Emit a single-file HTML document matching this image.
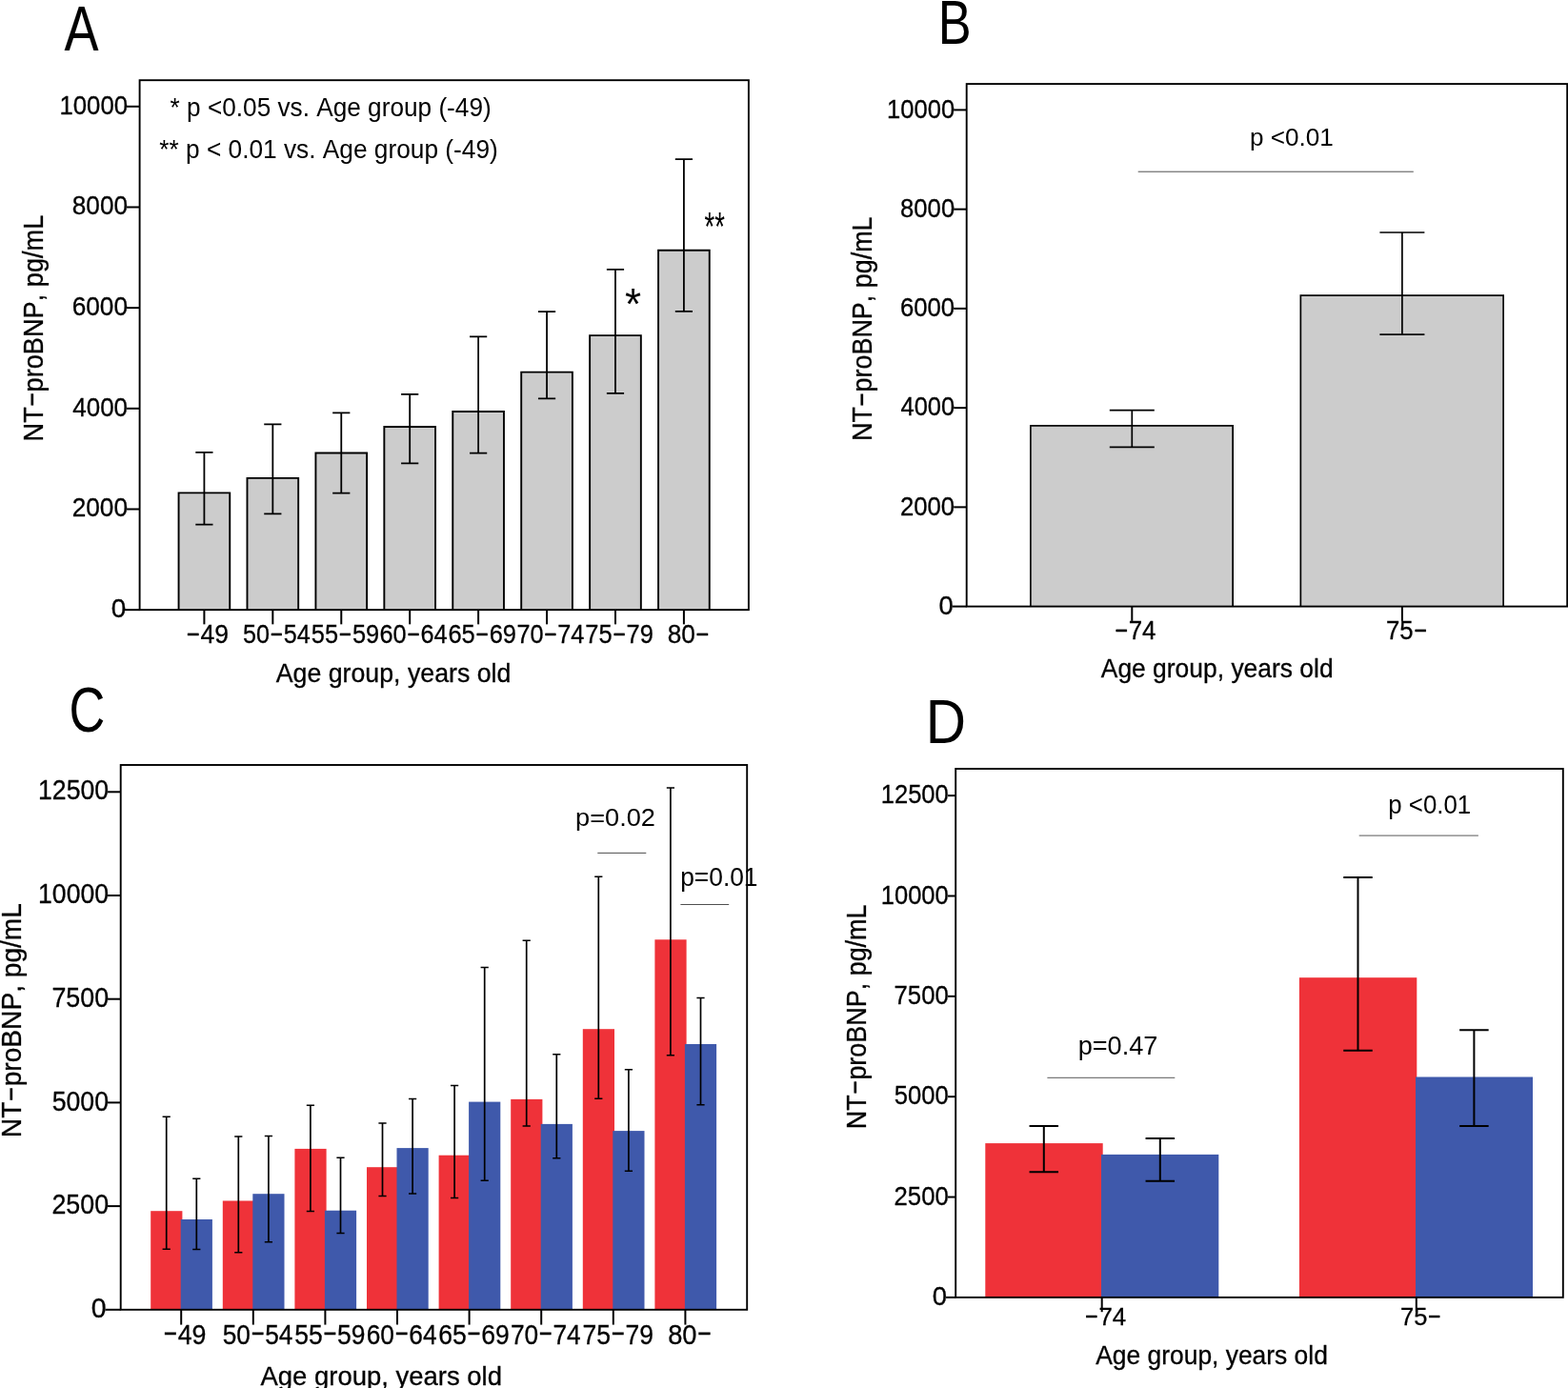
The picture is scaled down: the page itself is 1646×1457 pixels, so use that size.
<!DOCTYPE html>
<html lang="en">
<head>
<meta charset="utf-8">
<title>NT-proBNP by age group</title>
<style>
html,body{margin:0;padding:0;background:#fff;}
body{width:1646px;height:1457px;overflow:hidden;}
svg{display:block;}
text{font-family:"Liberation Sans", sans-serif;font-kerning:none;white-space:pre;fill:#000;}
</style>
</head>
<body>
<svg width="1646" height="1457" viewBox="0 0 1646 1457">
<rect x="0" y="0" width="1646" height="1457" fill="#ffffff"/>
<g>
<path d="M187.55 640.15V517.35H241.25V640.15" fill="#cccccc" stroke="#000" stroke-width="1.9"/>
<path d="M259.48 640.15V501.85H313.18V640.15" fill="#cccccc" stroke="#000" stroke-width="1.9"/>
<path d="M331.41 640.15V475.55H385.11V640.15" fill="#cccccc" stroke="#000" stroke-width="1.9"/>
<path d="M403.34 640.15V448.05H457.04V640.15" fill="#cccccc" stroke="#000" stroke-width="1.9"/>
<path d="M475.27 640.15V432.05H528.97V640.15" fill="#cccccc" stroke="#000" stroke-width="1.9"/>
<path d="M547.20 640.15V390.65H600.90V640.15" fill="#cccccc" stroke="#000" stroke-width="1.9"/>
<path d="M619.13 640.15V352.15H672.83V640.15" fill="#cccccc" stroke="#000" stroke-width="1.9"/>
<path d="M691.06 640.15V262.75H744.76V640.15" fill="#cccccc" stroke="#000" stroke-width="1.9"/>
<path d="M205.30 474.80H223.50M205.30 550.70H223.50" fill="none" stroke="#000" stroke-width="1.8"/>
<line x1="214.40" y1="474.80" x2="214.40" y2="550.70" stroke="#000" stroke-width="1.8"/>
<path d="M277.23 445.30H295.43M277.23 539.40H295.43" fill="none" stroke="#000" stroke-width="1.8"/>
<line x1="286.33" y1="445.30" x2="286.33" y2="539.40" stroke="#000" stroke-width="1.8"/>
<path d="M349.16 433.30H367.36M349.16 517.60H367.36" fill="none" stroke="#000" stroke-width="1.8"/>
<line x1="358.26" y1="433.30" x2="358.26" y2="517.60" stroke="#000" stroke-width="1.8"/>
<path d="M421.09 413.80H439.29M421.09 486.40H439.29" fill="none" stroke="#000" stroke-width="1.8"/>
<line x1="430.19" y1="413.80" x2="430.19" y2="486.40" stroke="#000" stroke-width="1.8"/>
<path d="M493.02 353.40H511.22M493.02 475.60H511.22" fill="none" stroke="#000" stroke-width="1.8"/>
<line x1="502.12" y1="353.40" x2="502.12" y2="475.60" stroke="#000" stroke-width="1.8"/>
<path d="M564.95 327.10H583.15M564.95 418.30H583.15" fill="none" stroke="#000" stroke-width="1.8"/>
<line x1="574.05" y1="327.10" x2="574.05" y2="418.30" stroke="#000" stroke-width="1.8"/>
<path d="M636.88 282.80H655.08M636.88 412.90H655.08" fill="none" stroke="#000" stroke-width="1.8"/>
<line x1="645.98" y1="282.80" x2="645.98" y2="412.90" stroke="#000" stroke-width="1.8"/>
<path d="M708.81 167.10H727.01M708.81 326.80H727.01" fill="none" stroke="#000" stroke-width="1.8"/>
<line x1="717.91" y1="167.10" x2="717.91" y2="326.80" stroke="#000" stroke-width="1.8"/>
<rect x="146.60" y="84.20" width="639.30" height="555.95" fill="none" stroke="#000" stroke-width="1.9"/>
<line x1="133.00" y1="111.80" x2="146.60" y2="111.80" stroke="#000" stroke-width="2.0"/>
<line x1="133.00" y1="217.47" x2="146.60" y2="217.47" stroke="#000" stroke-width="2.0"/>
<line x1="133.00" y1="323.14" x2="146.60" y2="323.14" stroke="#000" stroke-width="2.0"/>
<line x1="133.00" y1="428.81" x2="146.60" y2="428.81" stroke="#000" stroke-width="2.0"/>
<line x1="133.00" y1="534.48" x2="146.60" y2="534.48" stroke="#000" stroke-width="2.0"/>
<line x1="130.60" y1="640.15" x2="146.60" y2="640.15" stroke="#000" stroke-width="2.0"/>
<line x1="214.40" y1="640.15" x2="214.40" y2="655.35" stroke="#000" stroke-width="2.0"/>
<line x1="286.33" y1="640.15" x2="286.33" y2="655.35" stroke="#000" stroke-width="2.0"/>
<line x1="358.26" y1="640.15" x2="358.26" y2="655.35" stroke="#000" stroke-width="2.0"/>
<line x1="430.19" y1="640.15" x2="430.19" y2="655.35" stroke="#000" stroke-width="2.0"/>
<line x1="502.12" y1="640.15" x2="502.12" y2="655.35" stroke="#000" stroke-width="2.0"/>
<line x1="574.05" y1="640.15" x2="574.05" y2="655.35" stroke="#000" stroke-width="2.0"/>
<line x1="645.98" y1="640.15" x2="645.98" y2="655.35" stroke="#000" stroke-width="2.0"/>
<line x1="717.91" y1="640.15" x2="717.91" y2="655.35" stroke="#000" stroke-width="2.0"/>
<path d="M1081.85 636.60V446.85H1294.15V636.60" fill="#cccccc" stroke="#000" stroke-width="1.7"/>
<path d="M1365.35 636.60V310.05H1578.15V636.60" fill="#cccccc" stroke="#000" stroke-width="1.7"/>
<path d="M1164.80 430.60H1211.80M1164.80 469.40H1211.80" fill="none" stroke="#000" stroke-width="1.7"/>
<line x1="1188.30" y1="430.60" x2="1188.30" y2="469.40" stroke="#000" stroke-width="1.7"/>
<path d="M1448.40 244.00H1495.40M1448.40 351.20H1495.40" fill="none" stroke="#000" stroke-width="1.7"/>
<line x1="1471.90" y1="244.00" x2="1471.90" y2="351.20" stroke="#000" stroke-width="1.7"/>
<rect x="1014.70" y="88.10" width="630.50" height="548.50" fill="none" stroke="#000" stroke-width="1.9"/>
<line x1="1001.20" y1="115.40" x2="1014.70" y2="115.40" stroke="#000" stroke-width="2.0"/>
<line x1="1001.20" y1="219.64" x2="1014.70" y2="219.64" stroke="#000" stroke-width="2.0"/>
<line x1="1001.20" y1="323.88" x2="1014.70" y2="323.88" stroke="#000" stroke-width="2.0"/>
<line x1="1001.20" y1="428.12" x2="1014.70" y2="428.12" stroke="#000" stroke-width="2.0"/>
<line x1="1001.20" y1="532.36" x2="1014.70" y2="532.36" stroke="#000" stroke-width="2.0"/>
<line x1="999.50" y1="636.60" x2="1014.70" y2="636.60" stroke="#000" stroke-width="2.0"/>
<line x1="1188.30" y1="636.60" x2="1188.30" y2="651.90" stroke="#000" stroke-width="2.0"/>
<line x1="1471.90" y1="636.60" x2="1471.90" y2="651.90" stroke="#000" stroke-width="2.0"/>
<line x1="1194.70" y1="180.20" x2="1483.80" y2="180.20" stroke="#222" stroke-width="0.8"/>
<rect x="158.20" y="1271.20" width="33.20" height="103.60" fill="#ef3239"/>
<rect x="189.70" y="1280.00" width="33.20" height="94.80" fill="#3f59ab"/>
<rect x="233.80" y="1260.50" width="33.20" height="114.30" fill="#ef3239"/>
<rect x="265.30" y="1253.20" width="33.20" height="121.60" fill="#3f59ab"/>
<rect x="309.40" y="1205.90" width="33.20" height="168.90" fill="#ef3239"/>
<rect x="340.90" y="1270.70" width="33.20" height="104.10" fill="#3f59ab"/>
<rect x="385.00" y="1225.20" width="33.20" height="149.60" fill="#ef3239"/>
<rect x="416.50" y="1205.10" width="33.20" height="169.70" fill="#3f59ab"/>
<rect x="460.60" y="1212.70" width="33.20" height="162.10" fill="#ef3239"/>
<rect x="492.10" y="1156.60" width="33.20" height="218.20" fill="#3f59ab"/>
<rect x="536.20" y="1153.90" width="33.20" height="220.90" fill="#ef3239"/>
<rect x="567.70" y="1179.90" width="33.20" height="194.90" fill="#3f59ab"/>
<rect x="611.80" y="1080.20" width="33.20" height="294.60" fill="#ef3239"/>
<rect x="643.30" y="1187.10" width="33.20" height="187.70" fill="#3f59ab"/>
<rect x="687.40" y="986.30" width="33.20" height="388.50" fill="#ef3239"/>
<rect x="718.90" y="1096.00" width="33.20" height="278.80" fill="#3f59ab"/>
<path d="M170.60 1172.20H178.80M170.60 1311.30H178.80" fill="none" stroke="#000" stroke-width="1.5"/>
<line x1="174.70" y1="1172.20" x2="174.70" y2="1311.30" stroke="#000" stroke-width="1.7"/>
<path d="M246.20 1192.90H254.40M246.20 1314.80H254.40" fill="none" stroke="#000" stroke-width="1.5"/>
<line x1="250.30" y1="1192.90" x2="250.30" y2="1314.80" stroke="#000" stroke-width="1.7"/>
<path d="M321.80 1160.30H330.00M321.80 1271.50H330.00" fill="none" stroke="#000" stroke-width="1.5"/>
<line x1="325.90" y1="1160.30" x2="325.90" y2="1271.50" stroke="#000" stroke-width="1.7"/>
<path d="M397.40 1179.00H405.60M397.40 1255.40H405.60" fill="none" stroke="#000" stroke-width="1.5"/>
<line x1="401.50" y1="1179.00" x2="401.50" y2="1255.40" stroke="#000" stroke-width="1.7"/>
<path d="M473.00 1139.50H481.20M473.00 1257.60H481.20" fill="none" stroke="#000" stroke-width="1.5"/>
<line x1="477.10" y1="1139.50" x2="477.10" y2="1257.60" stroke="#000" stroke-width="1.7"/>
<path d="M548.60 987.30H556.80M548.60 1182.10H556.80" fill="none" stroke="#000" stroke-width="1.5"/>
<line x1="552.70" y1="987.30" x2="552.70" y2="1182.10" stroke="#000" stroke-width="1.7"/>
<path d="M624.20 920.20H632.40M624.20 1153.30H632.40" fill="none" stroke="#000" stroke-width="1.5"/>
<line x1="628.30" y1="920.20" x2="628.30" y2="1153.30" stroke="#000" stroke-width="1.7"/>
<path d="M699.80 827.10H708.00M699.80 1107.70H708.00" fill="none" stroke="#000" stroke-width="1.5"/>
<line x1="703.90" y1="827.10" x2="703.90" y2="1107.70" stroke="#000" stroke-width="1.7"/>
<path d="M202.20 1237.20H210.40M202.20 1311.50H210.40" fill="none" stroke="#000" stroke-width="1.5"/>
<line x1="206.30" y1="1237.20" x2="206.30" y2="1311.50" stroke="#000" stroke-width="1.7"/>
<path d="M277.80 1192.40H286.00M277.80 1303.80H286.00" fill="none" stroke="#000" stroke-width="1.5"/>
<line x1="281.90" y1="1192.40" x2="281.90" y2="1303.80" stroke="#000" stroke-width="1.7"/>
<path d="M353.40 1215.20H361.60M353.40 1294.50H361.60" fill="none" stroke="#000" stroke-width="1.5"/>
<line x1="357.50" y1="1215.20" x2="357.50" y2="1294.50" stroke="#000" stroke-width="1.7"/>
<path d="M429.00 1153.40H437.20M429.00 1253.00H437.20" fill="none" stroke="#000" stroke-width="1.5"/>
<line x1="433.10" y1="1153.40" x2="433.10" y2="1253.00" stroke="#000" stroke-width="1.7"/>
<path d="M504.60 1015.40H512.80M504.60 1239.30H512.80" fill="none" stroke="#000" stroke-width="1.5"/>
<line x1="508.70" y1="1015.40" x2="508.70" y2="1239.30" stroke="#000" stroke-width="1.7"/>
<path d="M580.20 1106.70H588.40M580.20 1215.70H588.40" fill="none" stroke="#000" stroke-width="1.5"/>
<line x1="584.30" y1="1106.70" x2="584.30" y2="1215.70" stroke="#000" stroke-width="1.7"/>
<path d="M655.80 1122.80H664.00M655.80 1229.20H664.00" fill="none" stroke="#000" stroke-width="1.5"/>
<line x1="659.90" y1="1122.80" x2="659.90" y2="1229.20" stroke="#000" stroke-width="1.7"/>
<path d="M731.40 1047.40H739.60M731.40 1159.80H739.60" fill="none" stroke="#000" stroke-width="1.5"/>
<line x1="735.50" y1="1047.40" x2="735.50" y2="1159.80" stroke="#000" stroke-width="1.7"/>
<rect x="126.70" y="803.00" width="657.50" height="571.80" fill="none" stroke="#000" stroke-width="1.9"/>
<line x1="112.80" y1="831.30" x2="126.70" y2="831.30" stroke="#000" stroke-width="2.0"/>
<line x1="112.80" y1="940.00" x2="126.70" y2="940.00" stroke="#000" stroke-width="2.0"/>
<line x1="112.80" y1="1048.70" x2="126.70" y2="1048.70" stroke="#000" stroke-width="2.0"/>
<line x1="112.80" y1="1157.40" x2="126.70" y2="1157.40" stroke="#000" stroke-width="2.0"/>
<line x1="112.80" y1="1266.10" x2="126.70" y2="1266.10" stroke="#000" stroke-width="2.0"/>
<line x1="110.50" y1="1374.80" x2="126.70" y2="1374.80" stroke="#000" stroke-width="2.0"/>
<line x1="190.20" y1="1374.80" x2="190.20" y2="1390.60" stroke="#000" stroke-width="2.0"/>
<line x1="265.80" y1="1374.80" x2="265.80" y2="1390.60" stroke="#000" stroke-width="2.0"/>
<line x1="341.40" y1="1374.80" x2="341.40" y2="1390.60" stroke="#000" stroke-width="2.0"/>
<line x1="417.00" y1="1374.80" x2="417.00" y2="1390.60" stroke="#000" stroke-width="2.0"/>
<line x1="492.60" y1="1374.80" x2="492.60" y2="1390.60" stroke="#000" stroke-width="2.0"/>
<line x1="568.20" y1="1374.80" x2="568.20" y2="1390.60" stroke="#000" stroke-width="2.0"/>
<line x1="643.80" y1="1374.80" x2="643.80" y2="1390.60" stroke="#000" stroke-width="2.0"/>
<line x1="719.40" y1="1374.80" x2="719.40" y2="1390.60" stroke="#000" stroke-width="2.0"/>
<line x1="627.30" y1="895.40" x2="678.30" y2="895.40" stroke="#222" stroke-width="0.8"/>
<line x1="714.40" y1="949.50" x2="765.20" y2="949.50" stroke="#222" stroke-width="0.8"/>
<rect x="1034.30" y="1200.10" width="123.40" height="161.80" fill="#ef3239"/>
<rect x="1156.00" y="1211.90" width="123.30" height="150.00" fill="#3f59ab"/>
<rect x="1363.90" y="1026.20" width="123.40" height="335.70" fill="#ef3239"/>
<rect x="1486.00" y="1130.50" width="123.00" height="231.40" fill="#3f59ab"/>
<path d="M1080.55 1182.10H1111.05M1080.55 1230.20H1111.05" fill="none" stroke="#000" stroke-width="2.0"/>
<line x1="1095.80" y1="1182.10" x2="1095.80" y2="1230.20" stroke="#000" stroke-width="2.0"/>
<path d="M1202.55 1194.90H1233.05M1202.55 1239.70H1233.05" fill="none" stroke="#000" stroke-width="2.0"/>
<line x1="1217.80" y1="1194.90" x2="1217.80" y2="1239.70" stroke="#000" stroke-width="2.0"/>
<path d="M1410.25 921.00H1440.75M1410.25 1102.80H1440.75" fill="none" stroke="#000" stroke-width="2.0"/>
<line x1="1425.50" y1="921.00" x2="1425.50" y2="1102.80" stroke="#000" stroke-width="2.0"/>
<path d="M1532.15 1081.20H1562.65M1532.15 1181.90H1562.65" fill="none" stroke="#000" stroke-width="2.0"/>
<line x1="1547.40" y1="1081.20" x2="1547.40" y2="1181.90" stroke="#000" stroke-width="2.0"/>
<rect x="1003.20" y="807.00" width="637.60" height="554.90" fill="none" stroke="#000" stroke-width="1.9"/>
<line x1="995.00" y1="835.15" x2="1003.20" y2="835.15" stroke="#000" stroke-width="2.0"/>
<line x1="995.00" y1="940.50" x2="1003.20" y2="940.50" stroke="#000" stroke-width="2.0"/>
<line x1="995.00" y1="1045.85" x2="1003.20" y2="1045.85" stroke="#000" stroke-width="2.0"/>
<line x1="995.00" y1="1151.20" x2="1003.20" y2="1151.20" stroke="#000" stroke-width="2.0"/>
<line x1="995.00" y1="1256.55" x2="1003.20" y2="1256.55" stroke="#000" stroke-width="2.0"/>
<line x1="993.00" y1="1361.90" x2="1003.20" y2="1361.90" stroke="#000" stroke-width="2.0"/>
<line x1="1156.70" y1="1361.90" x2="1156.70" y2="1377.20" stroke="#000" stroke-width="2.0"/>
<line x1="1486.80" y1="1361.90" x2="1486.80" y2="1377.20" stroke="#000" stroke-width="2.0"/>
<line x1="1099.40" y1="1131.40" x2="1233.30" y2="1131.40" stroke="#7a7a7a" stroke-width="1.1"/>
<line x1="1426.70" y1="877.20" x2="1551.90" y2="877.20" stroke="#7a7a7a" stroke-width="1.3"/>
</g>
<g>
<text transform="translate(62.42 119.67) scale(0.9284 1)" font-size="27.75" stroke="#000" stroke-width="0.3">10000</text>
<text transform="translate(75.82 225.34) scale(0.9431 1)" font-size="27.75" stroke="#000" stroke-width="0.3">8000</text>
<text transform="translate(75.69 331.01) scale(0.9453 1)" font-size="27.75" stroke="#000" stroke-width="0.3">6000</text>
<text transform="translate(76.35 436.68) scale(0.9344 1)" font-size="27.75" stroke="#000" stroke-width="0.3">4000</text>
<text transform="translate(75.69 542.35) scale(0.9453 1)" font-size="27.75" stroke="#000" stroke-width="0.3">2000</text>
<text transform="translate(116.63 648.02) scale(1.0053 1)" font-size="27.75" stroke="#000" stroke-width="0.3">0</text>
<text transform="translate(194.98 675.02) scale(0.9573 1)" font-size="27.75" stroke="#000" stroke-width="0.3"><tspan dy="-2.16" textLength="16.20" lengthAdjust="spacingAndGlyphs">-</tspan><tspan dy="2.16">49</tspan></text>
<text transform="translate(254.92 675.02) scale(0.9076 1)" font-size="27.75" stroke="#000" stroke-width="0.3">50<tspan dy="-2.16" textLength="16.20" lengthAdjust="spacingAndGlyphs">-</tspan><tspan dy="2.16">54</tspan></text>
<text transform="translate(326.85 675.02) scale(0.9143 1)" font-size="27.75" stroke="#000" stroke-width="0.3">55<tspan dy="-2.16" textLength="16.20" lengthAdjust="spacingAndGlyphs">-</tspan><tspan dy="2.16">59</tspan></text>
<text transform="translate(398.53 675.02) scale(0.9109 1)" font-size="27.75" stroke="#000" stroke-width="0.3">60<tspan dy="-2.16" textLength="16.20" lengthAdjust="spacingAndGlyphs">-</tspan><tspan dy="2.16">64</tspan></text>
<text transform="translate(470.45 675.02) scale(0.9176 1)" font-size="27.75" stroke="#000" stroke-width="0.3">65<tspan dy="-2.16" textLength="16.20" lengthAdjust="spacingAndGlyphs">-</tspan><tspan dy="2.16">69</tspan></text>
<text transform="translate(542.39 675.02) scale(0.9109 1)" font-size="27.75" stroke="#000" stroke-width="0.3">70<tspan dy="-2.16" textLength="16.20" lengthAdjust="spacingAndGlyphs">-</tspan><tspan dy="2.16">74</tspan></text>
<text transform="translate(614.31 675.02) scale(0.9176 1)" font-size="27.75" stroke="#000" stroke-width="0.3">75<tspan dy="-2.16" textLength="16.20" lengthAdjust="spacingAndGlyphs">-</tspan><tspan dy="2.16">79</tspan></text>
<text transform="translate(700.63 675.02) scale(0.9451 1)" font-size="27.75" stroke="#000" stroke-width="0.3">80<tspan dy="-2.16" textLength="16.20" lengthAdjust="spacingAndGlyphs">-</tspan></text>
<text transform="translate(289.77 715.60) scale(0.9485 1)" font-size="28.18" stroke="#000" stroke-width="0.3">Age group, years old</text>
<text transform="translate(67.53 52.90) scale(0.8161 1)" font-size="66.28">A</text>
<text transform="translate(178.61 122.32) scale(0.9491 1)" font-size="27.61">* p &lt;0.05 vs. Age group (-49)</text>
<text transform="translate(167.31 166.12) scale(0.9514 1)" font-size="27.61">** p &lt; 0.01 vs. Age group (-49)</text>
<text transform="translate(655.94 335.14) scale(0.9494 1)" font-size="46.29">*</text>
<text transform="translate(739.59 252.27) scale(0.6389 1)" font-size="42.86">**</text>
<text transform="translate(931.08 123.73) scale(0.9463 1)" font-size="27.04" stroke="#000" stroke-width="0.3">10000</text>
<text transform="translate(945.04 227.97) scale(0.9504 1)" font-size="27.04" stroke="#000" stroke-width="0.3">8000</text>
<text transform="translate(944.91 332.21) scale(0.9526 1)" font-size="27.04" stroke="#000" stroke-width="0.3">6000</text>
<text transform="translate(945.56 436.45) scale(0.9416 1)" font-size="27.04" stroke="#000" stroke-width="0.3">4000</text>
<text transform="translate(944.91 540.69) scale(0.9526 1)" font-size="27.04" stroke="#000" stroke-width="0.3">2000</text>
<text transform="translate(985.41 644.93) scale(1.0121 1)" font-size="27.04" stroke="#000" stroke-width="0.3">0</text>
<text transform="translate(1169.63 670.63) scale(0.9616 1)" font-size="26.90" stroke="#000" stroke-width="0.3"><tspan dy="-2.10" textLength="15.71" lengthAdjust="spacingAndGlyphs">-</tspan><tspan dy="2.10">74</tspan></text>
<text transform="translate(1455.01 670.63) scale(0.9589 1)" font-size="26.90" stroke="#000" stroke-width="0.3">75<tspan dy="-2.10" textLength="15.71" lengthAdjust="spacingAndGlyphs">-</tspan></text>
<text transform="translate(1155.77 711.20) scale(0.9429 1)" font-size="28.03" stroke="#000" stroke-width="0.3">Age group, years old</text>
<text transform="translate(984.81 46.30) scale(0.8002 1)" font-size="65.40">B</text>
<text transform="translate(1311.90 152.94) scale(0.9866 1)" font-size="26.48">p &lt;0.01</text>
<text transform="translate(40.05 839.41) scale(0.9266 1)" font-size="28.73" stroke="#000" stroke-width="0.3">12500</text>
<text transform="translate(40.05 948.11) scale(0.9266 1)" font-size="28.73" stroke="#000" stroke-width="0.3">10000</text>
<text transform="translate(54.46 1056.81) scale(0.9325 1)" font-size="28.73" stroke="#000" stroke-width="0.3">7500</text>
<text transform="translate(54.73 1165.51) scale(0.9281 1)" font-size="28.73" stroke="#000" stroke-width="0.3">5000</text>
<text transform="translate(54.46 1274.21) scale(0.9325 1)" font-size="28.73" stroke="#000" stroke-width="0.3">2500</text>
<text transform="translate(95.81 1382.91) scale(0.9928 1)" font-size="28.73" stroke="#000" stroke-width="0.3">0</text>
<text transform="translate(171.05 1410.71) scale(0.9333 1)" font-size="28.73" stroke="#000" stroke-width="0.3"><tspan dy="-2.24" textLength="16.78" lengthAdjust="spacingAndGlyphs">-</tspan><tspan dy="2.24">49</tspan></text>
<text transform="translate(233.75 1410.71) scale(0.9120 1)" font-size="28.73" stroke="#000" stroke-width="0.3">50<tspan dy="-2.24" textLength="16.78" lengthAdjust="spacingAndGlyphs">-</tspan><tspan dy="2.24">54</tspan></text>
<text transform="translate(309.34 1410.71) scale(0.9187 1)" font-size="28.73" stroke="#000" stroke-width="0.3">55<tspan dy="-2.24" textLength="16.78" lengthAdjust="spacingAndGlyphs">-</tspan><tspan dy="2.24">59</tspan></text>
<text transform="translate(384.68 1410.71) scale(0.9154 1)" font-size="28.73" stroke="#000" stroke-width="0.3">60<tspan dy="-2.24" textLength="16.78" lengthAdjust="spacingAndGlyphs">-</tspan><tspan dy="2.24">64</tspan></text>
<text transform="translate(460.28 1410.71) scale(0.9221 1)" font-size="28.73" stroke="#000" stroke-width="0.3">65<tspan dy="-2.24" textLength="16.78" lengthAdjust="spacingAndGlyphs">-</tspan><tspan dy="2.24">69</tspan></text>
<text transform="translate(535.88 1410.71) scale(0.9154 1)" font-size="28.73" stroke="#000" stroke-width="0.3">70<tspan dy="-2.24" textLength="16.78" lengthAdjust="spacingAndGlyphs">-</tspan><tspan dy="2.24">74</tspan></text>
<text transform="translate(611.48 1410.71) scale(0.9221 1)" font-size="28.73" stroke="#000" stroke-width="0.3">75<tspan dy="-2.24" textLength="16.78" lengthAdjust="spacingAndGlyphs">-</tspan><tspan dy="2.24">79</tspan></text>
<text transform="translate(701.17 1410.71) scale(0.9502 1)" font-size="28.73" stroke="#000" stroke-width="0.3">80<tspan dy="-2.24" textLength="16.78" lengthAdjust="spacingAndGlyphs">-</tspan></text>
<text transform="translate(273.46 1453.50) scale(1.0008 1)" font-size="27.45" stroke="#000" stroke-width="0.3">Age group, years old</text>
<text transform="translate(72.48 767.64) scale(0.7896 1)" font-size="66.34">C</text>
<text transform="translate(604.03 867.34) scale(1.0329 1)" font-size="26.34">p=0.02</text>
<text transform="translate(714.19 929.93) scale(0.9699 1)" font-size="27.18">p=0.01</text>
<text transform="translate(924.68 843.28) scale(0.9366 1)" font-size="27.32" stroke="#000" stroke-width="0.3">12500</text>
<text transform="translate(924.68 948.63) scale(0.9366 1)" font-size="27.32" stroke="#000" stroke-width="0.3">10000</text>
<text transform="translate(938.51 1053.98) scale(0.9428 1)" font-size="27.32" stroke="#000" stroke-width="0.3">7500</text>
<text transform="translate(938.77 1159.33) scale(0.9384 1)" font-size="27.32" stroke="#000" stroke-width="0.3">5000</text>
<text transform="translate(938.51 1264.68) scale(0.9428 1)" font-size="27.32" stroke="#000" stroke-width="0.3">2500</text>
<text transform="translate(978.71 1370.03) scale(1.0016 1)" font-size="27.32" stroke="#000" stroke-width="0.3">0</text>
<text transform="translate(1138.33 1391.14) scale(0.9874 1)" font-size="26.20" stroke="#000" stroke-width="0.3"><tspan dy="-2.04" textLength="15.30" lengthAdjust="spacingAndGlyphs">-</tspan><tspan dy="2.04">74</tspan></text>
<text transform="translate(1470.03 1391.14) scale(0.9725 1)" font-size="26.20" stroke="#000" stroke-width="0.3">75<tspan dy="-2.04" textLength="15.30" lengthAdjust="spacingAndGlyphs">-</tspan></text>
<text transform="translate(1150.27 1432.20) scale(0.9618 1)" font-size="27.45" stroke="#000" stroke-width="0.3">Age group, years old</text>
<text transform="translate(971.72 780.10) scale(0.8983 1)" font-size="65.11">D</text>
<text transform="translate(1457.32 854.43) scale(0.9508 1)" font-size="27.18">p &lt;0.01</text>
<text transform="translate(1131.64 1107.33) scale(1.0035 1)" font-size="27.04">p=0.47</text>
<text transform="translate(44.60 463.47) rotate(-90) scale(0.9329 1)" font-size="29.13" stroke="#000" stroke-width="0.3">NT<tspan dy="-2.27" textLength="17.01" lengthAdjust="spacingAndGlyphs">-</tspan><tspan dy="2.27">proBNP, pg/mL</tspan></text>
<text transform="translate(915.10 463.05) rotate(-90) scale(0.9151 1)" font-size="29.42" stroke="#000" stroke-width="0.3">NT<tspan dy="-2.29" textLength="17.18" lengthAdjust="spacingAndGlyphs">-</tspan><tspan dy="2.29">proBNP, pg/mL</tspan></text>
<text transform="translate(22.00 1194.15) rotate(-90) scale(0.9699 1)" font-size="28.99" stroke="#000" stroke-width="0.3">NT<tspan dy="-2.26" textLength="16.93" lengthAdjust="spacingAndGlyphs">-</tspan><tspan dy="2.26">proBNP, pg/mL</tspan></text>
<text transform="translate(908.60 1185.26) rotate(-90) scale(0.9296 1)" font-size="28.99" stroke="#000" stroke-width="0.3">NT<tspan dy="-2.26" textLength="16.93" lengthAdjust="spacingAndGlyphs">-</tspan><tspan dy="2.26">proBNP, pg/mL</tspan></text>
</g>
</svg>
</body>
</html>
